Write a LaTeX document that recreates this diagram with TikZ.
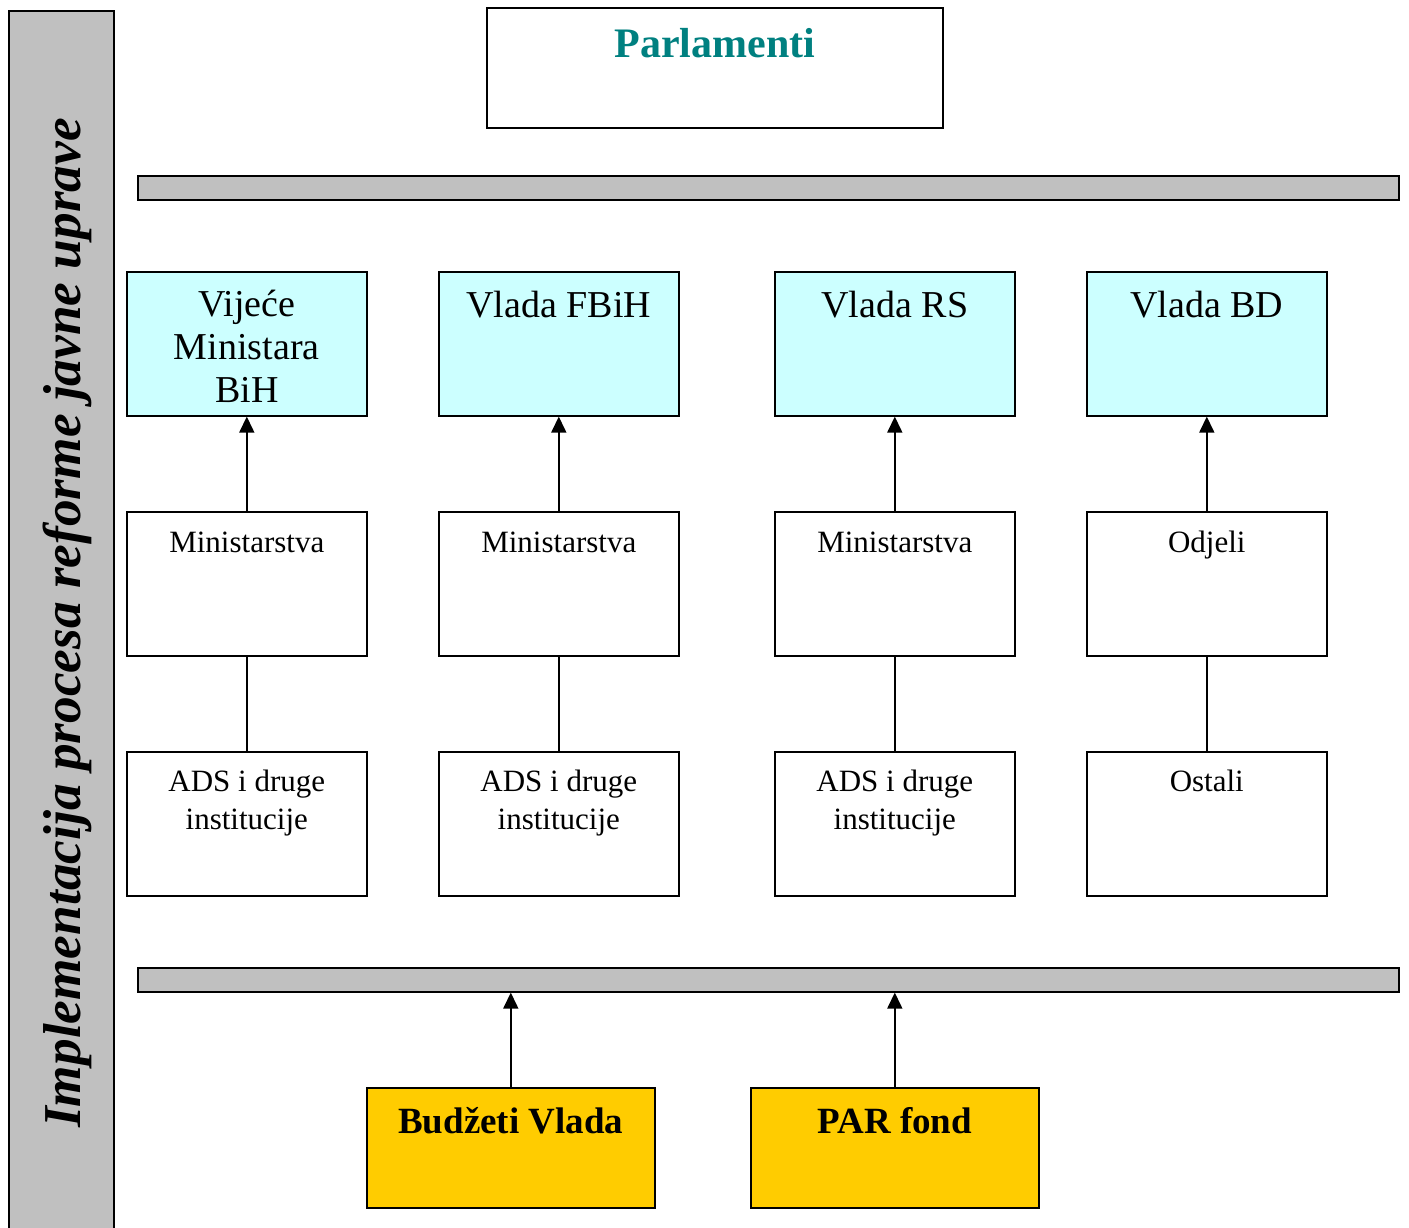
\documentclass[tikz,border=0pt]{standalone}
\usepackage{fontspec}
\setmainfont{Liberation Serif}
\usetikzlibrary{arrows.meta}
\definecolor{lcyan}{HTML}{CCFFFF}
\definecolor{gold}{HTML}{FFCC00}
\definecolor{bargrey}{HTML}{C0C0C0}
\definecolor{teal}{HTML}{008080}
\tikzset{
  frame/.style={draw, line width=1.6pt, inner sep=0pt, anchor=north west},
  unit/.style={frame, minimum width=240pt, minimum height=144pt},
  govbox/.style={unit, fill=lcyan},
  plainbox/.style={unit, fill=white},
  fundbox/.style={frame, fill=gold, minimum width=288pt, minimum height=120pt},
  greybar/.style={frame, fill=bargrey, minimum width=1261pt, minimum height=24pt},
  bigtxt/.style={inner sep=0pt, anchor=base, align=center, font=\fontsize{38}{43}\selectfont},
  midtxt/.style={inner sep=0pt, anchor=base, align=center, font=\fontsize{31}{38}\selectfont},
  link/.style={line width=1.6pt},
  arr/.style={line width=1.6pt, -{Triangle[length=16pt,width=15pt]}}
}
\begin{document}
\begin{tikzpicture}[x=1pt,y=-1pt]
\useasboundingbox (0,0) rectangle (1409,1228);
% left vertical bar
\node[frame, fill=bargrey, minimum width=105pt, minimum height=1230pt] (side) at (8,10) {};
\node[inner sep=0pt, rotate=90, anchor=base west, font=\fontsize{53.3}{58}\selectfont\bfseries\itshape] (sidetxt) at (80,1128) {Implementacija procesa reforme javne uprave};
% Parlamenti
\node[frame, fill=white, minimum width=456pt, minimum height=120pt] (parl) at (486,7) {};
\node[inner sep=0pt, anchor=base, font=\fontsize{42}{48}\selectfont\bfseries, text=teal] (parltxt) at ([yshift=-51pt]parl.north) {Parlamenti};
% bars
\node[greybar] (bar1) at (137,175) {};
\node[greybar] (bar2) at (137,967) {};
% row 1
\node[govbox] (v1) at (126,271) {};
\node[govbox] (v2) at (438,271) {};
\node[govbox] (v3) at (774,271) {};
\node[govbox] (v4) at (1086,271) {};
\node[bigtxt, anchor=north] (v1t) at ([yshift=-19pt]v1.north) {Vijeće\\Ministara\\BiH};
\node[bigtxt] (v2t) at ([yshift=-46pt]v2.north) {Vlada FBiH};
\node[bigtxt] (v3t) at ([yshift=-46pt]v3.north) {Vlada RS};
\node[bigtxt] (v4t) at ([yshift=-46pt]v4.north) {Vlada BD};
% row 2
\node[plainbox] (m1) at (126,511) {};
\node[plainbox] (m2) at (438,511) {};
\node[plainbox] (m3) at (774,511) {};
\node[plainbox] (m4) at (1086,511) {};
\node[midtxt] (m1t) at ([yshift=-41pt]m1.north) {Ministarstva};
\node[midtxt] (m2t) at ([yshift=-41pt]m2.north) {Ministarstva};
\node[midtxt] (m3t) at ([yshift=-41pt]m3.north) {Ministarstva};
\node[midtxt] (m4t) at ([yshift=-41pt]m4.north) {Odjeli};
% row 3
\node[plainbox] (a1) at (126,751) {};
\node[plainbox] (a2) at (438,751) {};
\node[plainbox] (a3) at (774,751) {};
\node[plainbox] (a4) at (1086,751) {};
\node[midtxt, anchor=north] (a1t) at ([yshift=-19pt]a1.north) {ADS i druge\\institucije};
\node[midtxt, anchor=north] (a2t) at ([yshift=-19pt]a2.north) {ADS i druge\\institucije};
\node[midtxt, anchor=north] (a3t) at ([yshift=-19pt]a3.north) {ADS i druge\\institucije};
\node[midtxt] (a4t) at ([yshift=-40pt]a4.north) {Ostali};
% funds
\node[fundbox] (bv) at (366,1087) {};
\node[fundbox] (par) at (750,1087) {};
\node[inner sep=0pt, anchor=base, font=\fontsize{37}{42}\selectfont\bfseries] (bvt) at ([yshift=-46pt]bv.north) {Budžeti Vlada};
\node[inner sep=0pt, anchor=base, font=\fontsize{37}{42}\selectfont\bfseries] (part) at ([yshift=-46pt]par.north) {PAR fond};
% connectors
\foreach \i in {1,2,3,4}{
  \draw[arr] (m\i.north) -- (v\i.south);
  \draw[link] (m\i.south) -- (a\i.north);
}
\draw[arr] (bv.north) -- (bv.north |- bar2.south);
\draw[arr] (par.north) -- (par.north |- bar2.south);
\end{tikzpicture}
\end{document}
